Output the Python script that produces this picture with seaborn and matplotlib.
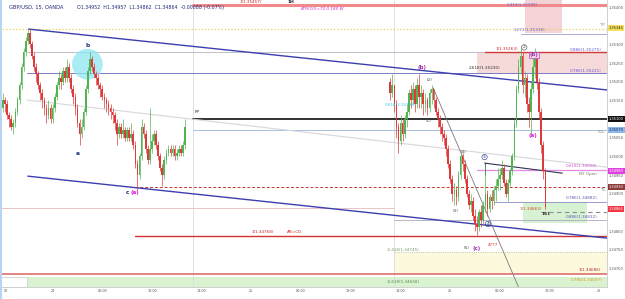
import numpy as np
import pandas as pd
import matplotlib
matplotlib.use("Agg")
import matplotlib.pyplot as plt
from matplotlib.patches import Rectangle, Ellipse
import seaborn as sns

# ---------------- data (hours on x, price on y) ----------------
step = 0.25
seg1_start = -0.25
seg1_open0 = 1.3511
seg1_close = [1.3513, 1.3515, 1.3514, 1.3511, 1.3510, 1.3508, 1.3509, 1.3512, 1.3515, 1.3519,
              1.3524, 1.3528, 1.3531, 1.3533, 1.3530, 1.3527, 1.3524, 1.3522, 1.3519, 1.3517,
              1.3515, 1.3513, 1.3511, 1.3513, 1.3510, 1.3513, 1.3516, 1.3519, 1.3521, 1.3520,
              1.3523, 1.3521, 1.3524, 1.3521, 1.3518, 1.3516, 1.3513, 1.3509, 1.3506, 1.3508,
              1.3512, 1.3518, 1.3523, 1.3526, 1.3524, 1.3522, 1.3521, 1.3519, 1.3518, 1.3516,
              1.3515, 1.3514, 1.3513, 1.3512, 1.3511, 1.3509, 1.3506, 1.3508, 1.3506, 1.3507,
              1.3505, 1.3507, 1.3505, 1.3506, 1.3503, 1.3498, 1.3495, 1.3500, 1.3508, 1.3506,
              1.3502, 1.3499, 1.3502, 1.3504, 1.3506, 1.3503, 1.3500, 1.3497, 1.3495, 1.3499,
              1.3501, 1.3502, 1.3501, 1.3502, 1.3500, 1.3501, 1.3502, 1.3501, 1.3503, 1.3508]
seg1_high = [1.3515, 1.3517, 1.3516, 1.3515, 1.3512, 1.3511, 1.3510, 1.3513, 1.3516, 1.3520,
             1.3525, 1.3529, 1.3532, 1.3534, 1.3534, 1.3531, 1.3528, 1.3525, 1.3523, 1.3520,
             1.3518, 1.3516, 1.3514, 1.3515, 1.3514, 1.3514, 1.3517, 1.3520, 1.3523, 1.3522,
             1.3524, 1.3524, 1.3526, 1.3525, 1.3522, 1.3519, 1.3517, 1.3514, 1.3510, 1.3510,
             1.3513, 1.3519, 1.3524, 1.3528, 1.3527, 1.3525, 1.3523, 1.3522, 1.3520, 1.3519,
             1.3517, 1.3516, 1.3515, 1.3514, 1.3513, 1.3512, 1.3510, 1.3509, 1.3509, 1.3510,
             1.3508, 1.3508, 1.3508, 1.3509, 1.3507, 1.3504, 1.3499, 1.3501, 1.3510, 1.3509,
             1.3507, 1.3503, 1.3513, 1.3506, 1.3507, 1.3507, 1.3504, 1.3501, 1.3498, 1.3500,
             1.3502, 1.3503, 1.3503, 1.3503, 1.3503, 1.3502, 1.3503, 1.3503, 1.3504, 1.3510]
seg1_low = [1.3510, 1.3512, 1.3512, 1.3510, 1.3508, 1.3507, 1.3506, 1.3508, 1.3511, 1.3514,
            1.3518, 1.3523, 1.3527, 1.3530, 1.3529, 1.3526, 1.3523, 1.3520, 1.3518, 1.3515,
            1.3513, 1.3511, 1.3509, 1.3510, 1.3509, 1.3509, 1.3512, 1.3515, 1.3518, 1.3518,
            1.3519, 1.3520, 1.3520, 1.3520, 1.3517, 1.3514, 1.3511, 1.3508, 1.3503, 1.3505,
            1.3507, 1.3511, 1.3517, 1.3522, 1.3523, 1.3521, 1.3519, 1.3518, 1.3516, 1.3515,
            1.3513, 1.3512, 1.3511, 1.3510, 1.3509, 1.3507, 1.3503, 1.3505, 1.3505, 1.3505,
            1.3504, 1.3504, 1.3504, 1.3504, 1.3502, 1.3497, 1.3491, 1.3494, 1.3499, 1.3505,
            1.3501, 1.3498, 1.3498, 1.3501, 1.3503, 1.3502, 1.3499, 1.3496, 1.3492, 1.3494,
            1.3498, 1.3500, 1.3500, 1.3500, 1.3499, 1.3499, 1.3500, 1.3500, 1.3500, 1.3502]

seg2_start = 46.8
seg2_open0 = 1.3520
seg2_close = [1.3517, 1.3519, 1.3514, 1.3508, 1.3504, 1.3509, 1.3506, 1.3510, 1.3512, 1.3517,
              1.3515, 1.3518, 1.3514, 1.3519, 1.3516, 1.3517, 1.3514, 1.3515, 1.3513, 1.3517,
              1.3518, 1.3515, 1.3512, 1.3510, 1.3508, 1.3506, 1.3505, 1.3502, 1.3498, 1.3494,
              1.3490, 1.3491, 1.3489, 1.3495, 1.3500, 1.3498, 1.3494, 1.3490, 1.3487, 1.3488,
              1.3484, 1.3482, 1.3481, 1.3485, 1.3483, 1.3487, 1.3490, 1.3486, 1.3489, 1.3488,
              1.3491, 1.3492, 1.3494, 1.3495, 1.3497, 1.3493, 1.3490, 1.3493, 1.3496, 1.3500,
              1.3509, 1.3518, 1.3524, 1.3527, 1.3519, 1.3521, 1.3514, 1.3512, 1.3518, 1.3524,
              1.3526, 1.3520, 1.3512, 1.3503, 1.3496, 1.34864]
seg2_high = [1.3521, 1.3522, 1.3519, 1.3515, 1.3509, 1.3511, 1.3510, 1.3511, 1.3514, 1.3518,
             1.3519, 1.3520, 1.3519, 1.3521, 1.3522, 1.3519, 1.3518, 1.3517, 1.3516, 1.3518,
             1.3519, 1.3518, 1.3516, 1.3513, 1.3511, 1.3509, 1.3507, 1.3506, 1.3503, 1.3499,
             1.3495, 1.3493, 1.3492, 1.3496, 1.3501, 1.3501, 1.3499, 1.3495, 1.3491, 1.3490,
             1.3489, 1.3486, 1.3484, 1.3486, 1.3487, 1.3488, 1.3498, 1.3491, 1.3490, 1.3491,
             1.3492, 1.3494, 1.3497, 1.3497, 1.3499, 1.3498, 1.3494, 1.3494, 1.3497, 1.3501,
             1.3510, 1.3519, 1.3526, 1.3529, 1.3528, 1.3523, 1.3522, 1.3516, 1.3520, 1.3527,
             1.3529, 1.3528, 1.3521, 1.3513, 1.3504, 1.3497]
seg2_low = [1.3515, 1.3516, 1.3512, 1.3505, 1.3501, 1.3503, 1.3504, 1.3505, 1.3508, 1.3511,
            1.3513, 1.3514, 1.3512, 1.3513, 1.3513, 1.3513, 1.3511, 1.3512, 1.3511, 1.3512,
            1.3514, 1.3513, 1.3511, 1.3508, 1.3506, 1.3504, 1.3503, 1.3500, 1.3497, 1.3493,
            1.3488, 1.3487, 1.3487, 1.3488, 1.3494, 1.3496, 1.3493, 1.3489, 1.3486, 1.3485,
            1.3483, 1.3480, 1.3479, 1.3480, 1.3481, 1.3482, 1.3485, 1.3484, 1.3485, 1.3486,
            1.3487, 1.3488, 1.3491, 1.3491, 1.3494, 1.3492, 1.3489, 1.3488, 1.3492, 1.3495,
            1.3499, 1.3508, 1.3517, 1.3522, 1.3517, 1.3516, 1.3512, 1.3508, 1.3506, 1.3517,
            1.3521, 1.3518, 1.3510, 1.3501, 1.3494, 1.3486]

x_tick_hours = [0.4, 6, 12, 18, 24, 30, 36, 42, 48, 54, 60, 66, 72]
x_tick_labels = ["00", "24", "06:00", "12:00", "18:00", "25", "06:00", "12:00",
                 "18:00", "26", "06:00", "12:00", "26"]
y_ticks = [1.3470, 1.34750, 1.3480, 1.3490, 1.34950, 1.3500, 1.35050,
           1.35150, 1.3520, 1.35250, 1.3530, 1.3540]

# trend lines: (x0, y0) -> (x1, y1)
trend_names = ["chan_up", "chan_dn", "faint", "diag", "tri"]
trend_x0 = [3.1, 3.0, 2.9, 52.0, 58.2]
trend_y0 = [1.35341, 1.34947, 1.35151, 1.35183, 1.34982]
trend_x1 = [73.0, 73.0, 73.0, 62.3, 67.6]
trend_y1 = [1.35178, 1.34781, 1.34971, 1.34650, 1.34955]

# horizontal levels: price, x start, x end
level_price = [1.35406, 1.35341, 1.35328, 1.35280, 1.35280, 1.35223, 1.35100, 1.35070,
               1.34963, 1.34918, 1.34878, 1.34851, 1.34862, 1.34829, 1.34787, 1.34744, 1.34685]
level_x0 = [23.0, -1, 62.6, 2.9, 58.3, 2.9, 23.0, 23.0, 57.3, 16.0, 59.3, 65.0, -1, 47.2, 16.0, 47.2, -1]
level_x1 = [74, 74, 74, 58.3, 74, 74, 74, 74, 74, 74, 74, 74, 47.2, 74, 74, 74, 74]

# shaded zones: x0, x1, y0, y1
zone_x0 = [57.3, 63.1, 62.9, 47.2, 2.9]
zone_x1 = [74, 67.6, 70.6, 74, 74]
zone_y0 = [1.35223, 1.35331, 1.34821, 1.34685, 1.34640]
zone_y1 = [1.35280, 1.35430, 1.34878, 1.34744, 1.34677]

# ---------------- styling ----------------
sns.set_theme(style="white")
plt.rcParams['font.family'] = ['DejaVu Sans']

fig = plt.figure(figsize=(6.25, 2.99), dpi=100)
fig.patch.set_facecolor("white")
ax = fig.add_axes([0, 12 / 299, 607 / 625, 287 / 299])
ax.set_xlim(-0.36, 73.0)
ax.set_ylim(1.34650, 1.35419)

GREEN = "#52b352"
RED = "#de3a3a"

# zones
zone_colors = ["#f6d9d9", "#f3d3d6", "#d6f2d2", "#fcf9dc", "#d9f2cf"]
for x0, x1, y0, y1, c in zip(zone_x0, zone_x1, zone_y0, zone_y1, zone_colors):
    ax.add_patch(Rectangle((x0, y0), x1 - x0, y1 - y0, fc=c, ec="none", zorder=0))
ax.add_patch(Rectangle((-0.4, 1.34640), 3.3, 0.00037, fc="white", ec="#c8c8c8", lw=0.5, zorder=0))

# vertical session separators
for vx in [23.0, 47.2]:
    ax.axvline(vx, color="#dcdcdc", lw=0.6, zorder=0.5)

# levels
level_style = [("#f08a8a", 2.2, "-"), ("#e8d24a", 0.9, ":"), ("#a59ad6", 0.6, "-"),
               ("#b4b4c4", 0.6, "-"), ("#d23a3a", 1.0, "-"), ("#7b7bc8", 0.7, "-"),
               ("#222222", 1.3, "-"), ("#a8c0dc", 0.7, "-"), ("#e38ae8", 0.9, "-"),
               ("#c0392b", 0.7, (0, (3, 2))), ("#8a8ac6", 0.6, "-"), ("#8c8c8c", 0.8, (0, (4, 3))),
               ("#e8bcbc", 0.6, "-"), ("#a8a8c4", 0.6, "-"), ("#d23232", 1.0, "-"),
               ("#b0b0b0", 0.6, ":"), ("#e07a7a", 1.3, "-")]
for p, x0, x1, (c, lw, ls) in zip(level_price, level_x0, level_x1, level_style):
    ax.plot([x0, x1], [p, p], color=c, lw=lw, ls=ls, zorder=1)

# trend lines via seaborn
trend_colors = ["#3b3fb0", "#3b3fb0", "#d6d6dc", "#7a7a7a", "#333355"]
trend_lw = [1.0, 1.0, 0.8, 0.6, 0.8]
for n, x0, y0, x1, y1, c, lw in zip(trend_names, trend_x0, trend_y0, trend_x1, trend_y1,
                                     trend_colors, trend_lw):
    df = pd.DataFrame({"x": [x0, x1], "y": [y0, y1]})
    sns.lineplot(data=df, x="x", y="y", ax=ax, color=c, lw=lw, zorder=2, legend=False)
ax.plot([58.2, 58.2], [1.34982, 1.34950], color="#333355", lw=0.6, zorder=2)

# cyan highlight circle
ax.add_patch(Ellipse((10.2, 1.35247), 3.7, 0.00082, fc="#8ee6ef", ec="none", alpha=0.75, zorder=1.5))


def candles(start, open0, close, high, low):
    c = np.asarray(close)
    h = np.asarray(high)
    l = np.asarray(low)
    o = np.r_[open0, c[:-1]]
    x = start + step * np.arange(len(c))
    up = c >= o
    cols = np.where(up, GREEN, RED)
    ax.vlines(x, l, h, colors=cols, lw=0.5, zorder=3)
    height = c - o
    height = np.where(np.abs(height) < 0.00002, np.where(up, 0.00002, -0.00002), height)
    ax.bar(x, height, bottom=o, width=0.2, color=cols, lw=0, zorder=4)


candles(seg1_start, seg1_open0, seg1_close, seg1_high, seg1_low)
candles(seg2_start, seg2_open0, seg2_close, seg2_high, seg2_low)

# ---------------- text annotations ----------------
NAVY = "#1e2a78"
PURP = "#9b2fae"
MAG = "#d81bd8"


def t(x, y, s, color="#333333", size=3.0, ha="center", va="center", **kw):
    ax.text(x, y, s, color=color, fontsize=size, ha=ha, va=va, zorder=6, **kw)


t(10.2, 1.35296, "b", NAVY, 4.2, fontweight="bold")
t(9.07, 1.35009, "a", NAVY, 4.2, fontweight="bold")
t(15.0, 1.34902, "c", NAVY, 4.0, fontweight="bold")
t(16.0, 1.34902, "(a)", MAG, 4.0, fontweight="bold")
t(23.5, 1.35118, "PP", "#333333", 3.0)
t(50.7, 1.35239, "(b)", PURP, 4.0, fontweight="bold")
t(51.6, 1.35205, "(2)", "#444444", 3.0)
t(51.4, 1.35095, "(1)", "#444444", 3.0)
t(55.6, 1.35012, "(4)", "#444444", 3.0)
t(54.7, 1.34854, "(3)", "#444444", 3.0)
t(56.0, 1.34754, "(5)", "#444444", 3.0)
t(57.3, 1.34754, "(c)", PURP, 4.0, fontweight="bold")
t(59.2, 1.34762, "4777", "#d32f2f", 3.0)
t(58.2, 1.34998, "3", NAVY, 3.2, bbox=dict(boxstyle="circle,pad=0.15", fc="white", ec=NAVY, lw=0.4))
t(58.6, 1.34819, "4", NAVY, 3.2, bbox=dict(boxstyle="circle,pad=0.15", fc="none", ec=NAVY, lw=0.4))
t(63.0, 1.35292, "2", "#444444", 3.2, bbox=dict(boxstyle="circle,pad=0.15", fc="white", ec="#444444", lw=0.4))
t(64.2, 1.35272, "(b)", PURP, 3.8, fontweight="bold",
  bbox=dict(boxstyle="square,pad=0.1", fc="#f3d3e6", ec=PURP, lw=0.4))
t(64.1, 1.35057, "(a)", MAG, 4.0, fontweight="bold")
t(48.1, 1.35138, "0.618(1.35138)", "#3cc8e0", 3.0)

# fib / level labels
t(60.1, 1.35236, "2.618(1.35230)", "#333333", 3.0, ha="right")
t(60.9, 1.35287, "1(1.35263)", "#c62828", 3.0)
t(72.3, 1.35284, "0.886(1.35275)", "#6a5acd", 3.0, ha="right")
t(72.3, 1.35228, "0.786(1.35221)", "#6a5acd", 3.0, ha="right")
t(63.6, 1.35338, "1.272(1.35338)", "#7b68c8", 3.0)
t(62.8, 1.35406, "1.414(1.35398)", "#7b68c8", 3.0)
t(72.5, 1.35351, "TP", "#888888", 2.8)
t(72.3, 1.35065, "PDL", "#888888", 2.8)
t(71.8, 1.34973, "0.618(1.34958)", "#d050d0", 3.0, ha="right")
t(71.8, 1.34953, "NY Open", "#777777", 3.0, ha="right")
t(72.5, 1.34910, "TL", "#777777", 2.8)
t(71.8, 1.34888, "0.786(1.34882)", "#5a5ab0", 3.0, ha="right")
t(63.8, 1.34860, "1(1.34863)", "#d0501e", 3.0)
t(65.6, 1.34845, "161", "#333333", 3.2, fontweight="bold")
t(71.8, 1.34837, "0.886(1.34832)", "#5a5ab0", 3.0, ha="right")
t(31.4, 1.34797, "1(1.34768)", "#c62828", 3.0)
t(35.3, 1.34797, "AB=CD", "#c62828", 3.0)
t(48.4, 1.34750, "-0.414(1.34745)", "#7a9a6a", 3.0)
t(72.3, 1.34695, "1(1.34686)", "#b03030", 3.0, ha="right")
t(72.5, 1.34668, "0.786(1.34697)", "#d4a020", 3.0, ha="right")
t(48.4, 1.34663, "-0.618(1.34658)", "#5a8a5a", 3.0)
t(30.0, 1.35413, "1(1.35457)", "#c62828", 3.0)
t(34.8, 1.35413, "1H", "#222222", 3.2, fontweight="bold")
t(38.6, 1.35395, "ATR(10)=72.0 180 W", "#cc33cc", 3.0, fontstyle="italic")

# header legend
fig.text(9 / 625, 1 - 7 / 299, "GBP/USD, 15, OANDA", color=NAVY, fontsize=3.7, ha="left", va="center")
fig.text(77 / 625, 1 - 7 / 299, "O1.34952  H1.34957  L1.34862  C1.34864  -0.00088 (-0.07%)",
         color=NAVY, fontsize=3.4, ha="left", va="center")
fig.patches.append(Rectangle((0, 0), 2 / 625, 1, transform=fig.transFigure, fc="#b7d4f0", ec="none"))

# axes styling
ax.yaxis.tick_right()
ax.set_yticks(y_ticks)
ax.set_yticklabels([f"{v:.5f}" for v in y_ticks])
ax.set_xticks(x_tick_hours)
ax.set_xticklabels(x_tick_labels)
ax.tick_params(axis="y", labelsize=2.6, colors="#555555", length=0, pad=1.5)
ax.tick_params(axis="x", labelsize=2.4, colors="#555555", length=0, pad=1.5)
ax.set_xlabel("")
ax.set_ylabel("")
for s in ["top", "left"]:
    ax.spines[s].set_visible(False)
for s in ["right", "bottom"]:
    ax.spines[s].set_color("#c9c9c9")
    ax.spines[s].set_linewidth(0.6)

# price boxes on the right axis
box_price = [1.35344, 1.35100, 1.35070, 1.34960, 1.34918, 1.34858]
box_text = ["1.35344", "1.35100", "1.35070", "1.34960", "1.34930", "1.34864"]
box_bg = ["#f3e25a", "#111111", "#8fb8e8", "#e040e0", "#8b3a3a", "#f23645"]
box_fg = ["#222222", "white", "#0b2a5a", "white", "white", "white"]
tr = ax.get_yaxis_transform()
for p, s, bg, fg in zip(box_price, box_text, box_bg, box_fg):
    ax.text(1.003, p, s, transform=tr, fontsize=2.6, color=fg, ha="left", va="center",
            bbox=dict(boxstyle="square,pad=0.25", fc=bg, ec="none"), zorder=10, clip_on=False)

fig.savefig("out.png", dpi=100)
